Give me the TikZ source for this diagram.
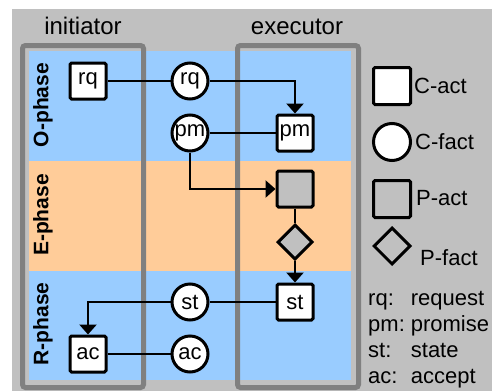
\documentclass[tikz,border=0pt]{standalone}
\usepackage{fontspec}
\setmainfont{Liberation Sans}
\usetikzlibrary{shapes.geometric,arrows.meta}
\definecolor{bggrey}{HTML}{C0C0C0}
\definecolor{phaseblue}{HTML}{99CCFF}
\definecolor{phaseorange}{HTML}{FFCC99}
\definecolor{framegrey}{HTML}{808080}
\begin{document}
\begin{tikzpicture}[
    x=1pt,y=-1pt,
    font=\fontsize{22}{26}\selectfont,
    act/.style={draw,line width=3pt,rounded corners=1.5pt,fill=white,minimum size=36pt,inner sep=0pt},
    fact/.style={draw,circle,line width=3pt,fill=white,minimum size=36pt,inner sep=0pt},
    pact/.style={act,fill=bggrey},
    pfact/.style={draw,diamond,line width=3pt,fill=bggrey,minimum size=35pt,inner sep=0pt},
    phase/.style={rotate=90,font=\fontsize{21}{21}\selectfont\bfseries},
    role/.style={anchor=base,font=\fontsize{24}{24}\selectfont},
    leg/.style={anchor=base west,inner sep=0pt},
    frame/.style={draw=framegrey,line width=5pt,rounded corners=3pt},
    link/.style={line width=2.5pt},
    arr/.style={link,-{Triangle[width=17pt,length=10pt]}}
]
\useasboundingbox (0,0) rectangle (492,391);
\fill[bggrey] (12,9) rectangle (492,391);
\fill[phaseblue] (29,51) rectangle (351,161);
\fill[phaseorange] (29,161) rectangle (351,271);
\fill[phaseblue] (29,271) rectangle (351,380);
\draw[frame] (22.5,45.5) rectangle (143.5,387.5);
\draw[frame] (237.5,45.5) rectangle (358.5,387.5);

\node[role] (ini) at (83,34) {initiator};
\node[role] (exe) at (297,34) {executor};
\node[phase] (oph) at (43,105) {O-phase};
\node[phase] (eph) at (43,215) {E-phase};
\node[phase] (rph) at (43,324) {R-phase};

\node[act] (rqI) at (88,81) {rq};
\node[fact] (rqF) at (190,81) {rq};
\node[fact] (pmF) at (190,133) {pm};
\node[act] (pmE) at (295,133) {pm};
\node[pact] (exA) at (295,189) {};
\node[pfact] (exF) at (295,242) {};
\node[act] (stE) at (295,302) {st};
\node[fact] (stF) at (190,302) {st};
\node[act] (acI) at (88,354) {ac};
\node[fact] (acF) at (190,354) {ac};

\draw[link] (rqI) -- (rqF);
\draw[arr] (rqF) -| (pmE);
\draw[link] (pmF) -- (pmE);
\draw[arr] (pmF) |- (exA);
\draw[link] (exA) -- (exF);
\draw[arr] (exF) -- (stE);
\draw[link] (stE) -- (stF);
\draw[arr] (stF) -| (acI);
\draw[link] (acI) -- (acF);

\node[act,minimum size=37pt] (lgCA) at (392,86) {};
\node[leg] (lgCAt) at (414,93) {C-act};
\node[fact,minimum size=37pt] (lgCF) at (392,142) {};
\node[leg] (lgCFt) at (415,149) {C-fact};
\node[pact,minimum size=37pt] (lgPA) at (392,199) {};
\node[leg] (lgPAt) at (416,205) {P-act};
\node[pfact,fill=none,minimum size=37pt] (lgPF) at (392,246) {};
\node[leg] (lgPFt) at (420,265) {P-fact};
\node[leg] (lgkey) at (368,305) {\begin{tabular}[t]{@{}l@{\hspace{6pt}}l@{}}
rq: & request\\
pm: & promise\\
st: & state\\
ac: & accept
\end{tabular}};
\end{tikzpicture}
\end{document}
